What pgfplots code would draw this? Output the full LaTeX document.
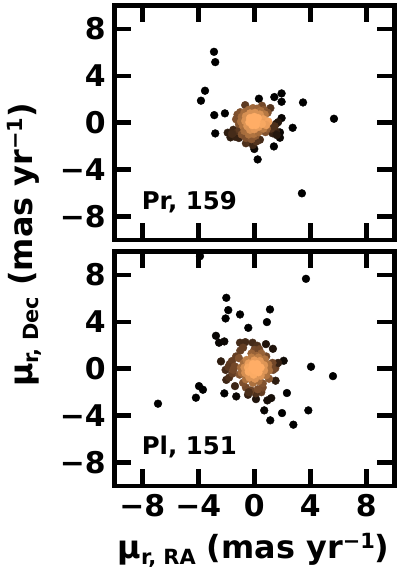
\documentclass[border=0pt]{standalone}
\usepackage{fontspec}
\setmainfont{DejaVu Sans}
\usepackage{pgfplots}
\usepackage{pgfplotstable}
\pgfplotsset{compat=1.18}

% x y density
\pgfplotstableread{
x y c
-2.88 6.05 0
-2.79 5.17 0
-3.52 2.73 0
-3.81 1.88 0
-2.86 0.65 0
-2.10 0.80 0
-2.79 -0.91 0
0.33 2.05 0
1.43 2.19 0
1.95 2.50 0
1.95 1.79 0
3.48 1.73 0
5.69 0.34 0
2.74 -0.43 0
1.40 -2.02 0
0.24 -3.13 0
3.40 -6.02 0
1.95 0.40 .02
0.00 -2.24 .03
1.83 -0.82 .03
1.83 -1.28 .03
-1.9 -0.85 .12
-1.7 -1.25 .12
-1.5 -0.6 .16
-1.35 -1.2 .14
-1.25 -0.85 .2
-1.1 -1.3 .14
-1.6 -0.95 .18
-1.05 -0.6 .24
-0.6 -1.75 .2
-0.35 -1.6 .22
0.4 -1.45 .18
-0.1 -1.9 .16
0.15 -1.6 .22
1.3 -0.9 .14
1.55 -0.75 .14
1.6 -1.05 .1
1.55 -0.1 .14
1.7 0.05 .1
1.2 -0.5 .22
1.45 -0.3 .2
-0.65 1.5 .24
1.15 1.25 .22
0.55 1.45 .3
-1.2 0.7 .34
-1.3 0.3 .34
-1 0.9 .36
-1.1 -0.1 .36
-0.9 -1.0 .36
-0.6 -1.3 .34
-0.2 -1.4 .38
0.1 -1.1 .4
0.8 -0.8 .36
0.9 -0.5 .42
0.7 1.1 .38
0.95 0.85 .36
-0.9 0.5 .5
-0.7 0.9 .5
-0.4 1.1 .48
-0.1 1.25 .48
0.2 1.2 .46
0.45 1.0 .52
-0.95 0.1 .52
-0.8 -0.3 .54
-0.7 -0.7 .5
-0.4 -1.0 .52
-0.05 -0.95 .54
0.3 -0.8 .5
0.65 -0.5 .58
0.75 0.7 .56
-0.6 0.55 .7
-0.3 0.8 .72
0.05 0.85 .72
0.4 0.7 .72
-0.65 0.15 .72
-0.5 -0.3 .74
-0.3 -0.6 .72
0 -0.55 .76
0.3 -0.35 .78
0.65 0.3 .82
0.8 0 .8
1.0 0.1 .84
0.85 -0.2 .8
0.55 -0.1 .86
-0.3 0.4 .92
0 0.5 .94
0.25 0.4 .94
-0.35 0.05 .96
-0.1 0.1 1
0.15 0.05 1
-0.15 -0.2 .96
0.1 -0.2 .96
0 0.25 1
}\prdata

\pgfplotstableread{
x y c
3.69 7.67 0
-3.88 9.6 0
-2 6.05 0
-1.86 5 0
-2.05 4.29 0
-1.02 4.63 0
1.12 5.06 0
0.90 3.98 0
-0.43 3.49 0
-2.74 2.81 .02
-2.52 2.22 .02
-2.14 2.33 .03
2.1 0.68 .04
4.05 0.17 0
5.62 -0.63 0
2.33 -2.07 0
-3.95 -1.48 0
-3.67 -1.79 0
-4.17 -2.47 0
-6.88 -2.98 0
-2.14 -2.10 0
-1.29 -2.36 .03
0.71 -3.55 .02
1.98 -3.78 0
3.86 -3.55 0
1.14 -4.40 0
2.79 -4.77 0
0.12 -2.59 .08
0.93 -2.70 .06
1.21 -2.5 .06
0.83 2.10 .08
1.33 1.70 .08
1.52 -1.02 .12
-1.38 -1.48 .16
-0.45 -2.22 .14
-1.02 2.22 .18
-0.64 2.27 .18
-0.12 2.22 .18
0.21 1.96 .2
-2.38 0.63 .12
-2.0 -0.95 .16
-1.8 -0.75 .2
-2.05 -0.1 .18
-1.75 0.4 .24
-1.6 0.65 .26
-1.85 0.15 .24
-1.55 -0.4 .26
-1.4 0.2 .3
-1.5 -0.1 .3
-1.3 1.05 .26
-1.0 1.55 .26
-0.8 1.8 .26
0.0 1.6 .32
0.35 1.65 .3
1.6 0.4 .24
1.5 0.05 .28
1.35 -0.1 .3
1.7 0.5 .14
1.3 0.5 .3
0.85 1.05 .3
0.5 -2.0 .26
0.1 -2.1 .2
-0.25 -1.85 .28
-0.6 -1.6 .3
-0.8 -1.2 .34
-0.4 -2.0 .2
0.6 -1.6 .32
0.6 -1.25 .36
0.25 -1.75 .34
-1.05 -0.5 .36
1.05 -0.85 .4
-1.1 0.9 .36
0.5 1.3 .44
0.15 1.1 .46
-0.2 1.3 .44
-0.75 0.5 .5
-0.95 0.1 .5
-0.9 -0.35 .5
-0.6 -0.9 .52
-0.1 -1.2 .52
0.3 -1.05 .5
0.85 -0.55 .54
1.05 -0.15 .52
1.0 0.35 .52
0.75 0.8 .54
0.3 0.95 .58
-0.2 0.95 .58
-0.55 0.75 .6
-0.7 0.1 .7
-0.65 -0.35 .7
-0.35 -0.75 .74
0.05 -0.85 .74
0.45 -0.6 .74
0.7 -0.15 .74
0.7 0.3 .74
0.4 0.65 .76
0 0.7 .78
-0.4 0.45 .8
-0.45 0.1 .86
-0.4 -0.25 .88
-0.05 -0.5 .88
0.3 -0.3 .9
0.45 0.1 .9
0.2 0.4 .92
-0.1 0.4 .94
-0.15 0.05 1
0.1 0.05 1
0 -0.15 1
}\pldata

\pgfplotsset{
  panel/.style={
    scale only axis,
    width=280bp, height=234.5bp,
    anchor=south west,
    xmin=-10, xmax=10, ymin=-10, ymax=10,
    xtick={-8,-4,0,4,8},
    ytick={-8,-4,0,4,8},
    yticklabels={−8,−4,0,4,8},
    xticklabels={−8,−4,0,4,8},
    tick align=inside,
    xtick pos=both, ytick pos=both,
    major tick length=17bp,
    every tick/.style={black, line width=4.5bp},
    axis line style={line width=4.5bp},
    axis on top,
    tick label style={font=\fontsize{30}{30}\selectfont\bfseries},
    xticklabel style={yshift=-5bp},
    yticklabel style={xshift=-5bp},
    colormap={copper}{rgb=(0,0,0) rgb=(.45,.28,.16) rgb=(.75,.5,.28) rgb=(1,.68,.40)},
    point meta min=0, point meta max=.9,
  },
  pts/.style={
    scatter, only marks, scatter src=explicit,
    mark=*, mark size=3.9bp,
    scatter/use mapped color={draw=mapped color, fill=mapped color},
  },
}

\newcommand{\tagfont}{\fontsize{24.5}{24.5}\selectfont\bfseries}
\newcommand{\labfont}{\fontsize{32}{32}\selectfont\bfseries}
\newcommand{\lsub}[1]{\raisebox{-6bp}{\fontsize{21}{21}\selectfont #1}}
\newcommand{\lsup}[1]{\raisebox{10bp}{\fontsize{21}{21}\selectfont #1}}

\begin{document}
\begin{tikzpicture}
\useasboundingbox (0,0) rectangle (400bp,571bp);

\begin{axis}[panel, at={(114.3bp,331bp)}, xticklabels={}]
  \addplot[pts] table[x=x, y=y, meta=c] {\prdata};
  \node[anchor=west, inner sep=0pt, font=\tagfont] at (axis cs:-8.05,-6.8) {Pr, 159};
\end{axis}

\begin{axis}[panel, at={(114.3bp,85bp)}]
  \addplot[pts] table[x=x, y=y, meta=c] {\pldata};
  \node[anchor=west, inner sep=0pt, font=\tagfont] at (axis cs:-8.05,-6.7) {Pl, 151};
\end{axis}

\node[font=\labfont, anchor=base] at (253.5bp,13bp) {μ\lsub{r, RA} (mas yr\lsup{−1})};
\node[font=\labfont, rotate=90, anchor=base] at (32bp,326bp) {μ\lsub{r, Dec} (mas yr\lsup{−1})};
\end{tikzpicture}
\end{document}
